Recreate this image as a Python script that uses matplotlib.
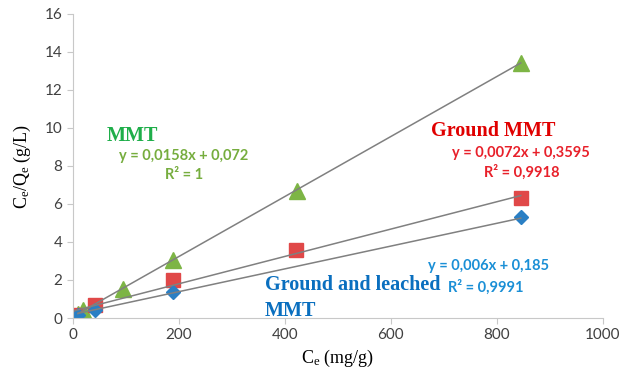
import matplotlib.pyplot as plt
import numpy as np

# data
mmt_x = [10, 20, 95, 190, 423, 845]
mmt_y = [0.2, 0.4, 1.5, 3.05, 6.7, 13.4]
ground_x = [4, 42, 189, 422, 845]
ground_y = [0.15, 0.68, 2.0, 3.6, 6.3]
leached_x = [10, 42, 189, 845]
leached_y = [0.15, 0.42, 1.35, 5.3]

# trendline coefficients (slope, intercept) as printed on the chart
mmt_fit = (0.0158, 0.072)
ground_fit = (0.0072, 0.3595)
leached_fit = (0.006, 0.185)

plt.rcParams['mathtext.fontset'] = 'custom'
plt.rcParams['mathtext.rm'] = 'Liberation Serif'
plt.rcParams['mathtext.it'] = 'Liberation Serif:italic'

fig = plt.figure(figsize=(6.31, 3.75), dpi=100)
ax = fig.add_axes([0.1152, 0.152, 0.8404, 0.8107])

ax.plot(mmt_x, mmt_y, '^', color='#7db545', markersize=11, zorder=2)
ax.plot(ground_x, ground_y, 's', color='#e04848', markersize=9.5, zorder=2)
ax.plot(leached_x, leached_y, 'D', color='#2a7fc4', markersize=7.5, zorder=2)

for xs, (m, b) in [(mmt_x, mmt_fit), (ground_x, ground_fit), (leached_x, leached_fit)]:
    xx = np.array([min(xs), max(xs)])
    ax.plot(xx, m * xx + b, color='#808080', lw=1.1, zorder=3)

ax.set_xlim(0, 1000)
ax.set_ylim(0, 16)
ax.set_xticks(range(0, 1001, 200))
ax.set_yticks(range(0, 17, 2))
for s in ['top', 'right']:
    ax.spines[s].set_visible(False)
for s in ['left', 'bottom']:
    ax.spines[s].set_color('#c8c8c8')
ax.tick_params(colors='#c8c8c8', labelcolor='#404040', length=4)
for lab in ax.get_xticklabels() + ax.get_yticklabels():
    lab.set_family('Lato')
    lab.set_fontsize(11)

ax.set_ylabel(r'C$_{\rm e}$/Q$_{\rm e}$ (g/L)', family='Liberation Serif', fontsize=13, labelpad=8)
ax.set_xlabel(r'C$_{\rm e}$ (mg/g)', family='Liberation Serif', fontsize=13, labelpad=4)

serif = dict(family='Liberation Serif', fontweight='bold', fontsize=14.5)
sans = dict(family='Lato', fontweight='bold', fontsize=10.5)

ax.text(64, 9.3, 'MMT', color='#1fae4a', **serif)
ax.text(210, 8.3, 'y = 0,0158x + 0,072', color='#76ad3e', ha='center', **sans)
ax.text(210, 7.3, 'R² = 1', color='#76ad3e', ha='center', **sans)

ax.text(793, 9.6, 'Ground MMT', color='#e00000', ha='center', **serif)
ax.text(846, 8.45, 'y = 0,0072x + 0,3595', color='#e8202a', ha='center', **sans)
ax.text(846, 7.45, 'R² = 0,9918', color='#e8202a', ha='center', **sans)

ax.text(362, 1.45, 'Ground and leached', color='#0a6fbf', **serif)
ax.text(362, 0.1, 'MMT', color='#0a6fbf', **serif)
ax.text(784, 2.5, 'y = 0,006x + 0,185', color='#1a8fd6', ha='center', **sans)
ax.text(778, 1.4, 'R² = 0,9991', color='#1a8fd6', ha='center', **sans)

fig.savefig('out.png', dpi=100)
